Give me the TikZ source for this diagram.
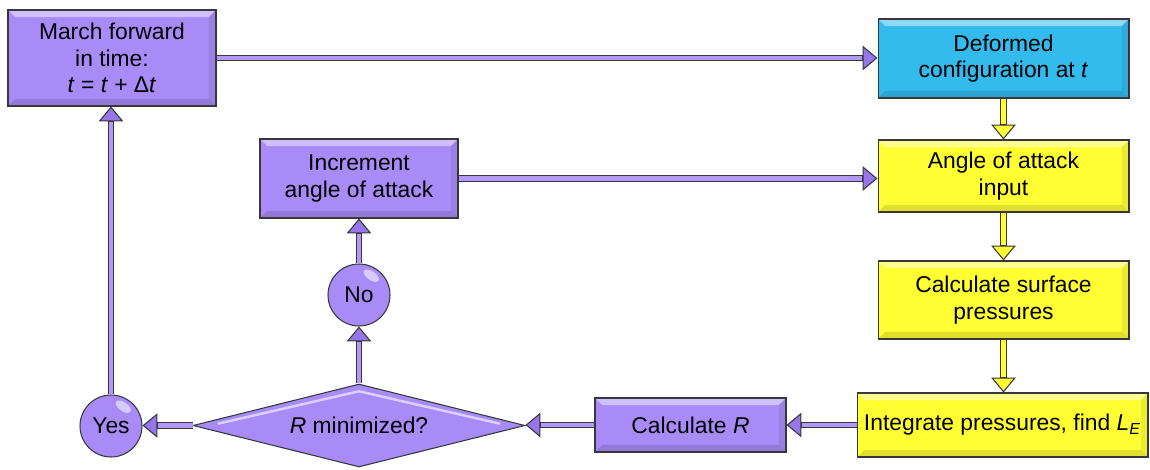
\documentclass[tikz,border=0pt]{standalone}
\usepackage{fontspec}
\setmainfont{Liberation Sans}
\usetikzlibrary{arrows.meta,shapes.geometric,calc}
\definecolor{pur}{RGB}{169,139,247}
\definecolor{purA}{RGB}{150,118,232}
\definecolor{purL}{RGB}{178,152,250}
\definecolor{blu}{RGB}{51,187,238}
\definecolor{yel}{RGB}{255,255,51}
\definecolor{edge}{RGB}{55,55,60}
\tikzset{
  bevel/.style={path picture={
    \fill[white,opacity=0.45] (path picture bounding box.north west) -- (path picture bounding box.north east)
      -- ([xshift=-4pt,yshift=-4pt]path picture bounding box.north east) -- ([xshift=4pt,yshift=-4pt]path picture bounding box.north west) -- cycle;
    \fill[black,opacity=0.12] (path picture bounding box.south west) -- (path picture bounding box.south east)
      -- ([xshift=-4pt,yshift=4pt]path picture bounding box.south east) -- ([xshift=4pt,yshift=4pt]path picture bounding box.south west) -- cycle;
    \fill[black,opacity=0.08] (path picture bounding box.north east) -- (path picture bounding box.south east)
      -- ([xshift=-4pt,yshift=4pt]path picture bounding box.south east) -- ([xshift=-4pt,yshift=-4pt]path picture bounding box.north east) -- cycle;
  }},
  box/.style={rectangle, draw=edge, line width=0.6pt, align=center, inner sep=0pt, text=black, bevel},
  pbox/.style={box, fill=pur},
  bbox/.style={box, fill=blu},
  ybox/.style={box, fill=yel},
  ball/.style={circle, draw=edge, line width=0.6pt, fill=pur, minimum size=1.24cm, inner sep=0pt,
    path picture={\fill[white,opacity=0.55] ([xshift=7pt,yshift=11pt]path picture bounding box.center) ellipse [x radius=5pt, y radius=2.5pt, rotate=-35];}},
  dia/.style={diamond, draw=edge, line width=0.6pt, fill=pur, inner sep=0pt, shape aspect=4,
    minimum width=6.64cm, minimum height=1.66cm,
    path picture={\draw[white,opacity=0.6,line width=1.4pt]
      ([xshift=14pt,yshift=1pt]path picture bounding box.west) -- ([yshift=-4pt]path picture bounding box.north) -- ([xshift=-14pt,yshift=1pt]path picture bounding box.east);}},
  shaftout/.style={draw=edge, line width=3.6pt},
  shaftinP/.style={draw=purL, line width=2.3pt, shorten >=8.6pt},
  shaftinY/.style={draw=yel, line width=2.3pt, shorten >=8.6pt},
}
\newcommand\parr[2]{%
  \draw[shaftout, -{Triangle[length=8.5pt,width=14pt,line width=0.6pt,fill=purA]}] #1 -- #2;
  \draw[shaftinP] #1 -- #2;}
\newcommand\yarr[2]{%
  \draw[shaftout, -{Triangle[length=8.5pt,width=14pt,line width=0.6pt,fill=yel]}] #1 -- #2;
  \draw[shaftinY] #1 -- #2;}
\begin{document}
\begin{tikzpicture}[x=0.02cm,y=-0.02cm, font=\fontsize{13}{15}\selectfont]
\useasboundingbox (0,0) rectangle (1150,470);
\node[pbox, minimum width=4.16cm, minimum height=1.92cm] (march) at (112,58) {March forward\\in time:\\\textit{t} = \textit{t} + Δ\textit{t}};
\node[bbox, minimum width=5.02cm, minimum height=1.58cm] (deform) at (1003.5,58.5) {Deformed\\configuration at \textit{t}};
\node[ybox, minimum width=5.02cm, minimum height=1.44cm] (angle) at (1003.5,176) {Angle of attack\\input};
\node[ybox, minimum width=5.02cm, minimum height=1.56cm] (surf) at (1003.5,300) {Calculate surface\\pressures};
\node[ybox, minimum width=5.82cm, minimum height=1.28cm] (integ) at (1002.5,425) {Integrate pressures, find \textit{L}\textsubscript{\textit{E}}};
\node[pbox, minimum width=3.82cm, minimum height=1.08cm] (calcr) at (690.5,425) {Calculate \textit{R}};
\node[dia] (dia) at (359,425.5) {\textit{R} minimized?};
\node[pbox, minimum width=3.96cm, minimum height=1.58cm] (inc) at (359,178.5) {Increment\\angle of attack};
\node[ball] (no) at (359,295) {No};
\node[ball] (yes) at (111,426) {Yes};

\parr{(march.east)}{(march.east -| deform.west)}
\yarr{(deform.south)}{(angle.north)}
\yarr{(angle.south)}{(surf.north)}
\yarr{(surf.south)}{(surf.south |- integ.north)}
\parr{(integ.west)}{(integ.west -| calcr.east)}
\parr{(calcr.west)}{(calcr.west -| dia.east)}
\parr{(dia.west)}{(dia.west -| yes.east)}
\parr{(yes.north)}{(yes.north |- march.south)}
\parr{(dia.north)}{(no.south)}
\parr{(no.north)}{(inc.south)}
\parr{(inc.east)}{(inc.east -| angle.west)}
\end{tikzpicture}
\end{document}
